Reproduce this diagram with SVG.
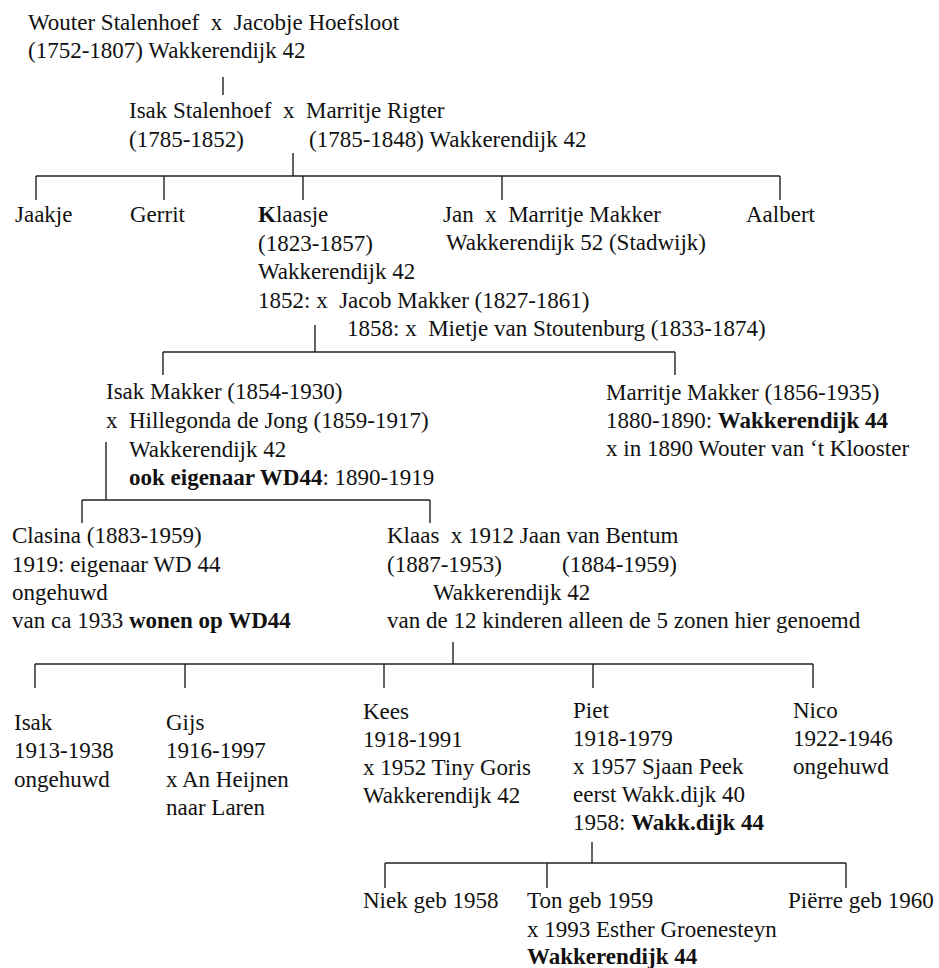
<svg xmlns="http://www.w3.org/2000/svg" width="939" height="968" viewBox="0 0 939 968">
<style>
text { font-family: "Liberation Serif", "Times New Roman", serif; font-size: 23px; fill: #111; white-space: pre; }
.b { font-weight: bold; }
.c { stroke: #222; stroke-width: 1.4; fill: none; }
</style>
<rect width="939" height="968" fill="#fff"/>
<g id="connectors" class="c">
  <path d="M223 77V95"/>
  <path d="M293 153V176M36 176H780M36 176V200M164 176V200M303 176V200M502 176V200M780 176V200"/>
  <path d="M315 325V352M163 352H675M163 352V375M675 352V375"/>
  <path d="M106 442V500M82 500H430M82 500V523M430 500V523"/>
  <path d="M453 642V664M35 664H813M35 664V688M185 664V688M384 664V688M593 664V688M813 664V688"/>
  <path d="M592 842V863M385 863H846M385 863V888M547 863V888M846 863V888"/>
</g>
<g id="wouter">
  <text x="28" y="30">Wouter Stalenhoef  x  Jacobje Hoefsloot</text>
  <text x="28" y="58">(1752-1807) Wakkerendijk 42</text>
</g>
<g id="isak-stalenhoef">
  <text x="129" y="118">Isak Stalenhoef  x  Marritje Rigter</text>
  <text x="129" y="147">(1785-1852)</text>
  <text x="309" y="147">(1785-1848) Wakkerendijk 42</text>
</g>
<g id="jaakje"><text x="15" y="222">Jaakje</text></g>
<g id="gerrit"><text x="130" y="222">Gerrit</text></g>
<g id="klaasje">
  <text x="258" y="222"><tspan class="b">K</tspan>laasje</text>
  <text x="258" y="251">(1823-1857)</text>
  <text x="258" y="279">Wakkerendijk 42</text>
  <text x="258" y="308">1852: x  Jacob Makker (1827-1861)</text>
  <text x="347" y="336">1858: x  Mietje van Stoutenburg (1833-1874)</text>
</g>
<g id="jan">
  <text x="443" y="222">Jan  x  Marritje Makker</text>
  <text x="446" y="250">Wakkerendijk 52 (Stadwijk)</text>
</g>
<g id="aalbert"><text x="746" y="222">Aalbert</text></g>
<g id="isak-makker">
  <text x="106" y="399">Isak Makker (1854-1930)</text>
  <text x="106" y="428">x  Hillegonda de Jong (1859-1917)</text>
  <text x="129" y="457">Wakkerendijk 42</text>
  <text x="129" y="485"><tspan class="b">ook eigenaar WD44</tspan>: 1890-1919</text>
</g>
<g id="marritje-makker">
  <text x="606" y="400">Marritje Makker (1856-1935)</text>
  <text x="606" y="428">1880-1890: <tspan class="b">Wakkerendijk 44</tspan></text>
  <text x="606" y="456">x in 1890 Wouter van ‘t Klooster</text>
</g>
<g id="clasina">
  <text x="12" y="543">Clasina (1883-1959)</text>
  <text x="12" y="572">1919: eigenaar WD 44</text>
  <text x="12" y="600">ongehuwd</text>
  <text x="12" y="628">van ca 1933 <tspan class="b">wonen op WD44</tspan></text>
</g>
<g id="klaas">
  <text x="387" y="543">Klaas  x 1912 Jaan van Bentum</text>
  <text x="387" y="572">(1887-1953)</text>
  <text x="562" y="572">(1884-1959)</text>
  <text x="433" y="600">Wakkerendijk 42</text>
  <text x="387" y="628">van de 12 kinderen alleen de 5 zonen hier genoemd</text>
</g>
<g id="isak">
  <text x="14" y="730">Isak</text>
  <text x="14" y="758">1913-1938</text>
  <text x="14" y="787">ongehuwd</text>
</g>
<g id="gijs">
  <text x="166" y="730">Gijs</text>
  <text x="166" y="758">1916-1997</text>
  <text x="166" y="787">x An Heijnen</text>
  <text x="166" y="815">naar Laren</text>
</g>
<g id="kees">
  <text x="363" y="719">Kees</text>
  <text x="363" y="747">1918-1991</text>
  <text x="363" y="775">x 1952 Tiny Goris</text>
  <text x="363" y="803">Wakkerendijk 42</text>
</g>
<g id="piet">
  <text x="573" y="718">Piet</text>
  <text x="573" y="746">1918-1979</text>
  <text x="573" y="774">x 1957 Sjaan Peek</text>
  <text x="573" y="802">eerst Wakk.dijk 40</text>
  <text x="573" y="830">1958: <tspan class="b">Wakk.dijk 44</tspan></text>
</g>
<g id="nico">
  <text x="793" y="718">Nico</text>
  <text x="793" y="746">1922-1946</text>
  <text x="793" y="774">ongehuwd</text>
</g>
<g id="niek"><text x="363" y="908">Niek geb 1958</text></g>
<g id="ton">
  <text x="527" y="908">Ton geb 1959</text>
  <text x="527" y="937">x 1993 Esther Groenesteyn</text>
  <text x="527" y="964" class="b">Wakkerendijk 44</text>
</g>
<g id="pierre"><text x="788" y="908">Piërre geb 1960</text></g>
</svg>
